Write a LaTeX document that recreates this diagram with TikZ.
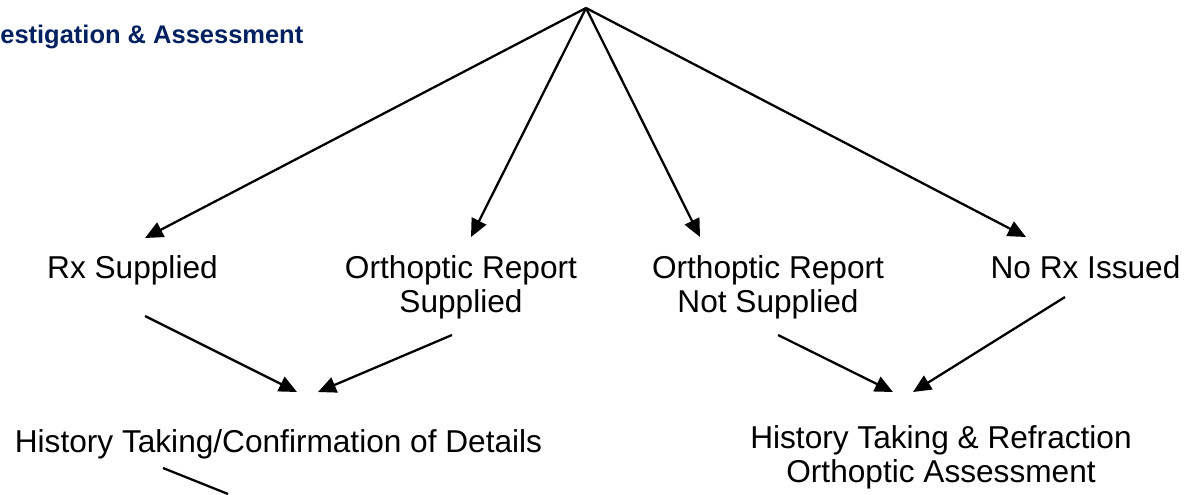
\documentclass[tikz,border=0pt]{standalone}
\usepackage{fontspec}
\setmainfont{Liberation Sans}
\usetikzlibrary{arrows.meta}
\definecolor{headblue}{RGB}{0,32,96}
\tikzset{
	flow/.style={-{Triangle[length=0.36cm,width=0.32cm]}, line width=1.3pt},
	txt/.style={font=\fontsize{18}{19.4}\selectfont, inner sep=0pt, align=center}
}

\begin{document}
\begin{tikzpicture}[x=0.02cm, y=-0.02cm]
	
	\useasboundingbox (0,0) rectangle (1193,494);
	
	% heading
	\node[anchor=base west, inner sep=0pt, text=headblue, font=\bfseries\fontsize{14.5}{16}\selectfont] (head) at (0,43) {estigation \& Assessment};
	
	% top point
	\coordinate (top) at (586,8);
	
	% first row
	\node[txt, anchor=base] (rx) at (132.5,278) {Rx Supplied};
	\node[txt, anchor=north] (ors) at (461,255) {Orthoptic Report\\Supplied};
	\node[txt, anchor=north] (orns) at (768,255) {Orthoptic Report\\Not Supplied};
	\node[txt, anchor=base] (norx) at (1085.5,278) {No Rx Issued};
	
	% second row
	\node[txt, anchor=base] (hist) at (278.5,452) {History Taking/Confirmation of Details};
	\node[txt, anchor=north] (refr) at (941,425) {History Taking \& Refraction\\Orthoptic Assessment};
	
	% arrow ends
	\coordinate (rx-in) at (145,238);
	\coordinate (ors-in) at (471,237);
	\coordinate (orns-in) at (700,237);
	\coordinate (norx-in) at (1026,237);
	\coordinate (rx-out) at (145,316);
	\coordinate (ors-out) at (452,335);
	\coordinate (orns-out) at (778,335);
	\coordinate (norx-out) at (1065,297);
	\coordinate (hist-in) at (297,392);
	\coordinate (hist-in2) at (318,392);
	\coordinate (refr-in) at (893,392);
	\coordinate (refr-in2) at (913,392);
	\coordinate (hist-out) at (163,468);
	\coordinate (cut) at (228,494);
	
	% from the top
	\draw[flow] (top) -- (rx-in);
	\draw[flow] (top) -- (ors-in);
	\draw[flow] (top) -- (orns-in);
	\draw[flow] (top) -- (norx-in);
	
	% into the second row
	\draw[flow] (rx-out) -- (hist-in);
	\draw[flow] (ors-out) -- (hist-in2);
	\draw[flow] (orns-out) -- (refr-in);
	\draw[flow] (norx-out) -- (refr-in2);
	
	% runs off the page
	\draw[line width=1.3pt] (hist-out) -- (cut);
	
\end{tikzpicture}
\end{document}
